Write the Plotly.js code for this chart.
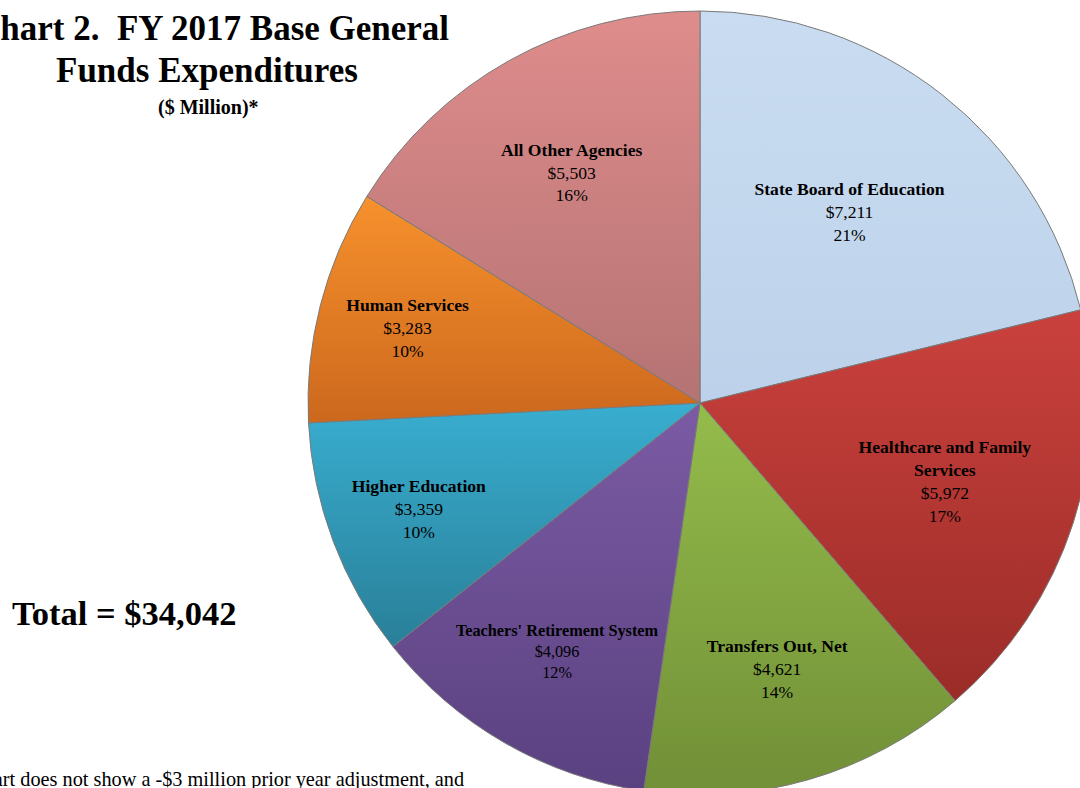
<!DOCTYPE html>
<html>
<head>
<meta charset="utf-8">
<script src="https://cdn.plot.ly/plotly-3.0.1.min.js"></script>
<style>
  html, body { margin: 0; padding: 0; overflow: hidden; background: #ffffff; }
  #chart { width: 1100px; height: 800px; }
</style>
</head>
<body>
<div id="chart"></div>
<script>
// ---- data ----
const categories = [
  "State Board of Education",
  "Healthcare and Family Services",
  "Transfers Out, Net",
  "Teachers' Retirement System",
  "Higher Education",
  "Human Services",
  "All Other Agencies"
];
const displayLabels = [
  "State Board of Education",
  "Healthcare and Family<br>Services",
  "Transfers Out, Net",
  "Teachers' Retirement System",
  "Higher Education",
  "Human Services",
  "All Other Agencies"
];
const values = [7211, 5972, 4621, 4096, 3359, 3283, 5503];
const percentLabels = ["21%", "17%", "14%", "12%", "10%", "10%", "16%"];
const titleLines = ["Chart 2.\u00a0\u00a0FY 2017 Base General", "Funds Expenditures", "($ Million)*"];
const totalText = "Total = $34,042";
const footnoteText = "*Chart does not show a -$3 million prior year adjustment, and";

// ---- styles ----
const colors    = ["#C5D9EF", "#B83A35", "#86AB42", "#6C4F92", "#3199B8", "#E27A25", "#CC8080"];
const topColors = ["#C9DCF1", "#CA413D", "#94BC4B", "#7B5BA4", "#39AED0", "#F7912D", "#DF8C8C"];
const botColors = ["#BDD2EA", "#9B2C28", "#718F37", "#5A4180", "#297F98", "#CC681D", "#B57373"];

const W = 1100, H = 800;
const px = x => x / W;
const py = y => 1 - y / H;
const serif = "Liberation Serif, Times New Roman, serif";

const trace = {
  type: "pie",
  labels: categories,
  values: values,
  text: displayLabels,
  customdata: percentLabels,
  sort: false,
  direction: "clockwise",
  rotation: 0,
  domain: { x: [px(308), px(1092)], y: [py(795), py(11)] },
  marker: { colors: colors, line: { color: "#7a7a7a", width: 1 } },
  textinfo: "text",
  texttemplate: "<b>%{text}</b><br>$%{value:,}<br>%{customdata}",
  textposition: "inside",
  insidetextorientation: "horizontal",
  textfont: { family: serif, size: 17.6, color: "#000000" },
  hoverinfo: "label+value+percent",
  showlegend: false
};

const annotations = [
  { text: "<b>" + titleLines[0] + "</b>", x: px(451), y: py(28), xanchor: "right", yanchor: "middle",
    font: { family: serif, size: 35, color: "#000" } },
  { text: "<b>" + titleLines[1] + "</b>", x: px(207), y: py(70), xanchor: "center", yanchor: "middle",
    font: { family: serif, size: 35, color: "#000" } },
  { text: "<b>" + titleLines[2] + "</b>", x: px(208), y: py(107), xanchor: "center", yanchor: "middle",
    font: { family: serif, size: 20, color: "#000" } },
  { text: "<b>" + totalText + "</b>", x: px(10), y: py(613), xanchor: "left", yanchor: "middle",
    font: { family: serif, size: 34.5, color: "#000" } },
  { text: footnoteText, x: px(466), y: py(779), xanchor: "right", yanchor: "middle",
    font: { family: serif, size: 20.3, color: "#000" } }
].map(a => Object.assign({ xref: "paper", yref: "paper", showarrow: false }, a));

const layout = {
  width: W,
  height: H,
  margin: { l: 0, r: 0, t: 0, b: 0 },
  paper_bgcolor: "#ffffff",
  plot_bgcolor: "#ffffff",
  showlegend: false,
  annotations: annotations
};

Plotly.newPlot("chart", [trace], layout, { displayModeBar: false, staticPlot: true }).then(gd => {
  // vertical shading on each slice, like the reference
  const NS = "http://www.w3.org/2000/svg";
  const svg = gd.querySelector(".main-svg");
  let defs = svg.querySelector("defs");
  if (!defs) { defs = document.createElementNS(NS, "defs"); svg.insertBefore(defs, svg.firstChild); }
  const paths = gd.querySelectorAll(".pielayer .slice path.surface");
  paths.forEach((p, i) => {
    const g = document.createElementNS(NS, "linearGradient");
    g.setAttribute("id", "sliceGrad" + i);
    g.setAttribute("x1", "0"); g.setAttribute("y1", "0");
    g.setAttribute("x2", "0"); g.setAttribute("y2", "1");
    [[0, topColors[i]], [1, botColors[i]]].forEach(([o, c]) => {
      const s = document.createElementNS(NS, "stop");
      s.setAttribute("offset", o); s.setAttribute("stop-color", c);
      g.appendChild(s);
    });
    defs.appendChild(g);
    p.style.fill = "url(#sliceGrad" + i + ")";
  });
});
</script>
</body>
</html>
